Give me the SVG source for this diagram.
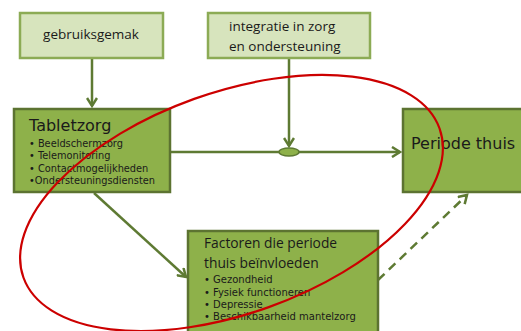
<svg xmlns="http://www.w3.org/2000/svg" width="521" height="331" viewBox="0 0 521 331">
<style>
.light{fill:#d7e4bd;stroke:#8cab55;stroke-width:2.5}
.dark{fill:#8eb14a;stroke:#5c7331;stroke-width:2.5}
.conn{stroke:#5e7a33;stroke-width:2.5;fill:none}
.cal{font-family:"Open Sans","Liberation Sans",sans-serif;fill:#1a1a1a}
.dv{font-family:"DejaVu Sans","Liberation Sans",sans-serif;fill:#1a1a1a}
</style>
<defs>
<marker id="ah" markerWidth="12" markerHeight="12" refX="9" refY="6" orient="auto" markerUnits="userSpaceOnUse">
<path d="M1,1 L9,6 L1,11" fill="none" stroke="#5e7a33" stroke-width="2.5"/>
</marker>
</defs>
<g id="connectors">
<line class="conn" x1="92" y1="58" x2="92" y2="106" marker-end="url(#ah)"/>
<line class="conn" x1="170" y1="152" x2="400" y2="152" marker-end="url(#ah)"/>
<line class="conn" x1="289" y1="58" x2="289" y2="146" marker-end="url(#ah)"/>
<ellipse cx="289" cy="152" rx="10" ry="4" fill="#8eb14a" stroke="#5e7a33" stroke-width="1.5"/>
<line class="conn" x1="94" y1="193" x2="186" y2="277" marker-end="url(#ah)"/>
<line class="conn" x1="378" y1="280" x2="467" y2="195" stroke-dasharray="9,6" marker-end="url(#ah)"/>
</g>
<g id="gebruiksgemak">
<rect class="light" x="20" y="13" width="143" height="45"/>
<text class="cal" x="91" y="39" font-size="13.5" text-anchor="middle">gebruiksgemak</text>
</g>
<g id="integratie">
<rect class="light" x="208" y="13" width="162" height="45"/>
<text class="cal" x="229" y="31" font-size="13.5">integratie in zorg</text>
<text class="cal" x="229" y="51" font-size="13.5">en ondersteuning</text>
</g>
<g id="tabletzorg">
<rect class="dark" x="14" y="109" width="156" height="83"/>
<text class="dv" x="29" y="131" font-size="16">Tabletzorg</text>
<text class="dv" font-size="9.8">
<tspan x="29" y="147">• Beeldschermzorg</tspan>
<tspan x="29" y="159">• Telemonitoring</tspan>
<tspan x="29" y="172">• Contactmogelijkheden</tspan>
<tspan x="29" y="184">•Ondersteuningsdiensten</tspan>
</text>
</g>
<g id="periode">
<rect class="dark" x="403" y="109" width="122" height="83"/>
<text class="dv" x="411" y="149" font-size="16">Periode thuis</text>
</g>
<g id="factoren">
<rect class="dark" x="188" y="231" width="190" height="105"/>
<text class="cal" x="204" y="248" font-size="13.8">Factoren die periode</text>
<text class="cal" x="204" y="268" font-size="13.8">thuis beïnvloeden</text>
<text class="dv" font-size="10">
<tspan x="204" y="283">• Gezondheid</tspan>
<tspan x="204" y="296">• Fysiek functioneren</tspan>
<tspan x="204" y="308">• Depressie</tspan>
<tspan x="204" y="320">• Beschikbaarheid mantelzorg</tspan>
</text>
</g>
<ellipse cx="231.5" cy="203" rx="221" ry="110.6" transform="rotate(-19.7 231.5 203)" fill="none" stroke="#cc0000" stroke-width="2.2"/>
</svg>
